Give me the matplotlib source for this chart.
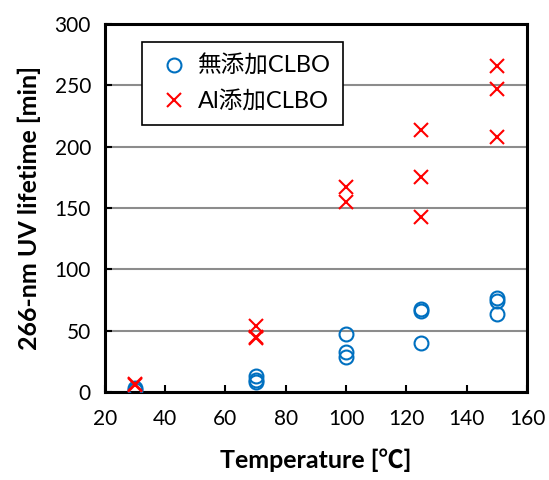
import matplotlib.pyplot as plt

# データ
temp_none = [30, 30, 70, 70, 70, 100, 100, 100, 125, 125, 125, 150, 150, 150]
life_none = [2, 3, 13, 10, 8, 47, 33, 29, 68, 66, 40, 77, 74, 64]
temp_al = [30, 30, 70, 70, 70, 100, 100, 125, 125, 125, 150, 150, 150]
life_al = [6, 7, 54, 45, 44, 167, 155, 214, 175, 143, 266, 247, 208]

x_ticks = [20, 40, 60, 80, 100, 120, 140, 160]
y_ticks = [0, 50, 100, 150, 200, 250, 300]


def plot_chart():
    plt.rcParams['font.family'] = ['Lato', 'Noto Sans CJK JP', 'DejaVu Sans']

    fig = plt.figure(figsize=(5.49, 4.8), dpi=100)
    ax = fig.add_axes([0.191, 0.183, 0.769, 0.767])

    ax.plot(temp_none, life_none, linestyle="none", marker="o", markersize=10,
            markerfacecolor="none", markeredgecolor="#0070C0", markeredgewidth=1.5,
            label="無添加CLBO", zorder=3)
    ax.plot(temp_al, life_al, linestyle="none", marker="x", markersize=10,
            color="#FF0000", markeredgewidth=1.5, label="Al添加CLBO", zorder=3)

    ax.set_xlim(20, 160)
    ax.set_ylim(0, 300)
    ax.set_xticks(x_ticks)
    ax.set_yticks(y_ticks)
    ax.yaxis.grid(True, color="#8c8c8c", linewidth=1.5)
    ax.set_axisbelow(True)

    for s in ax.spines.values():
        s.set_linewidth(2.2)
    ax.tick_params(direction="in", length=5, width=1.5, labelsize=15, pad=10)
    ax.tick_params(axis="x", pad=12)

    ax.set_xlabel("Temperature [℃]", fontsize=18, fontweight="bold", labelpad=14)
    ax.set_ylabel("266-nm UV lifetime [min]", fontsize=18, fontweight="bold", labelpad=10)

    leg = ax.legend(loc="upper left", bbox_to_anchor=(0.088, 0.951), fontsize=17,
                    fancybox=False, edgecolor="black", framealpha=1,
                    handletextpad=0.2, borderpad=0.55, labelspacing=0.55,
                    handlelength=1.6, borderaxespad=0)
    leg.get_frame().set_linewidth(1.2)

    fig.savefig("out.png", dpi=100)


if __name__ == "__main__":
    plot_chart()
